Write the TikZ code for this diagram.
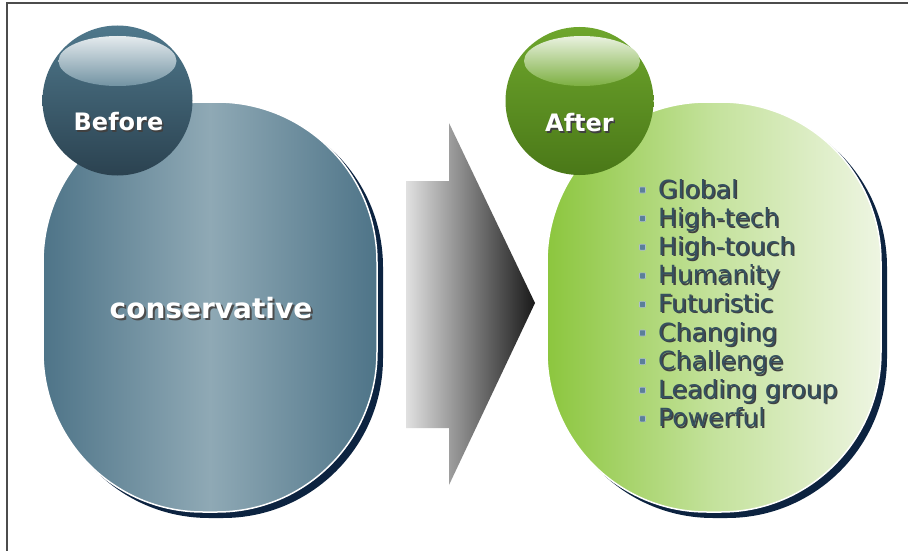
\documentclass[tikz,border=0pt]{standalone}
\usepackage{fontspec}
\setmainfont{DejaVu Sans}
\usetikzlibrary{positioning}
\definecolor{steeledge}{HTML}{4E7488}
\definecolor{steelmid}{HTML}{8FA9B5}
\definecolor{navyshadow}{HTML}{0C2340}
\definecolor{balltop}{HTML}{4F788C}
\definecolor{ballbottom}{HTML}{2B4250}
\definecolor{greentop}{HTML}{6EA62C}
\definecolor{greenbottom}{HTML}{4A7818}
\definecolor{limeedge}{HTML}{8CC63E}
\definecolor{limemid}{HTML}{C4E29C}
\definecolor{limepale}{HTML}{EEF5E2}
\definecolor{listtext}{HTML}{35505F}
\definecolor{bulletblue}{HTML}{5B7F99}
\tikzset{
  blob/.style={rounded corners=160pt},
  blobshadow/.style={blob, fill=navyshadow},
  ball/.style={top color=balltop, bottom color=ballbottom},
  greenball/.style={top color=greentop, bottom color=greenbottom},
  headtext/.style={text=white, font=\bfseries\fontsize{24}{28}\selectfont, inner sep=0pt, anchor=base},
  itemtext/.style={font=\fontsize{25}{30}\selectfont, inner sep=0pt, anchor=base west},
  bulletbox/.style={draw=bulletblue!50!white, line width=0.6pt, fill=bulletblue, minimum size=6pt, inner sep=0pt, rounded corners=0.8pt}
}
\begin{document}
\begin{tikzpicture}[x=1pt, y=-1pt]
  \useasboundingbox (0,0) rectangle (908,551);
  \fill[white] (0,0) rectangle (908,551);
  % frame
  \draw[black!70, line width=1.2pt] (7,551) -- (7,3) -- (908,3);

  % left blob
  \fill[blobshadow] (49,107) rectangle (383,518);
  \shade[blob, left color=steeledge, right color=steeledge, middle color=steelmid, draw=white, line width=1.5pt] (43,102) rectangle (377,512);
  % right blob
  \fill[blobshadow] (553,107) rectangle (887,518);
  \shade[blob, left color=limeedge, right color=limepale, middle color=limemid, draw=white, line width=1.5pt] (547,102) rectangle (881,512);

  % arrow
  \shade[left color=black!12, right color=black!90]
    (406,181) -- (449,181) -- (449,123) -- (535,303) -- (449,485) -- (449,428) -- (406,428) -- cycle;

  % balls
  \shade[ball] (117.5,100.5) circle (75);
  \shade[top color=white!85!balltop, bottom color=balltop!80!white] (117.5,61) ellipse (59 and 25);
  \shade[greenball] (579.5,101) circle (74);
  \shade[top color=white!85!greentop, bottom color=greentop!90!white] (582,61) ellipse (58 and 25);

  % labels
  \node[headtext, text=black!75] (before-sh) at (120,132) {Before};
  \node[headtext] (before) at (118.5,130) {Before};
  \node[headtext, text=black!75] (after-sh) at (581,133) {After};
  \node[headtext] (after) at (579.5,131) {After};
  \node[headtext, font=\bfseries\fontsize{28}{32}\selectfont, text=black!70] (cons-sh) at (213,320) {conservative};
  \node[headtext, font=\bfseries\fontsize{28}{32}\selectfont] (cons) at (211,318) {conservative};

  % list
  \foreach \i/\word in {1/Global, 2/High-tech, 3/High-touch, 4/Humanity, 5/Futuristic, 6/Changing, 7/Challenge, 8/Leading group, 9/Powerful}{
    \node[bulletbox] (dot\i) at (642.5,{190+(\i-1)*28.6}) {};
    \node[itemtext, text=black!75] (item\i-sh) at (659.5,{199.5+(\i-1)*28.6}) {\word};
    \node[itemtext, text=listtext] (item\i) at (658,{198+(\i-1)*28.6}) {\word};
  }
\end{tikzpicture}
\end{document}
